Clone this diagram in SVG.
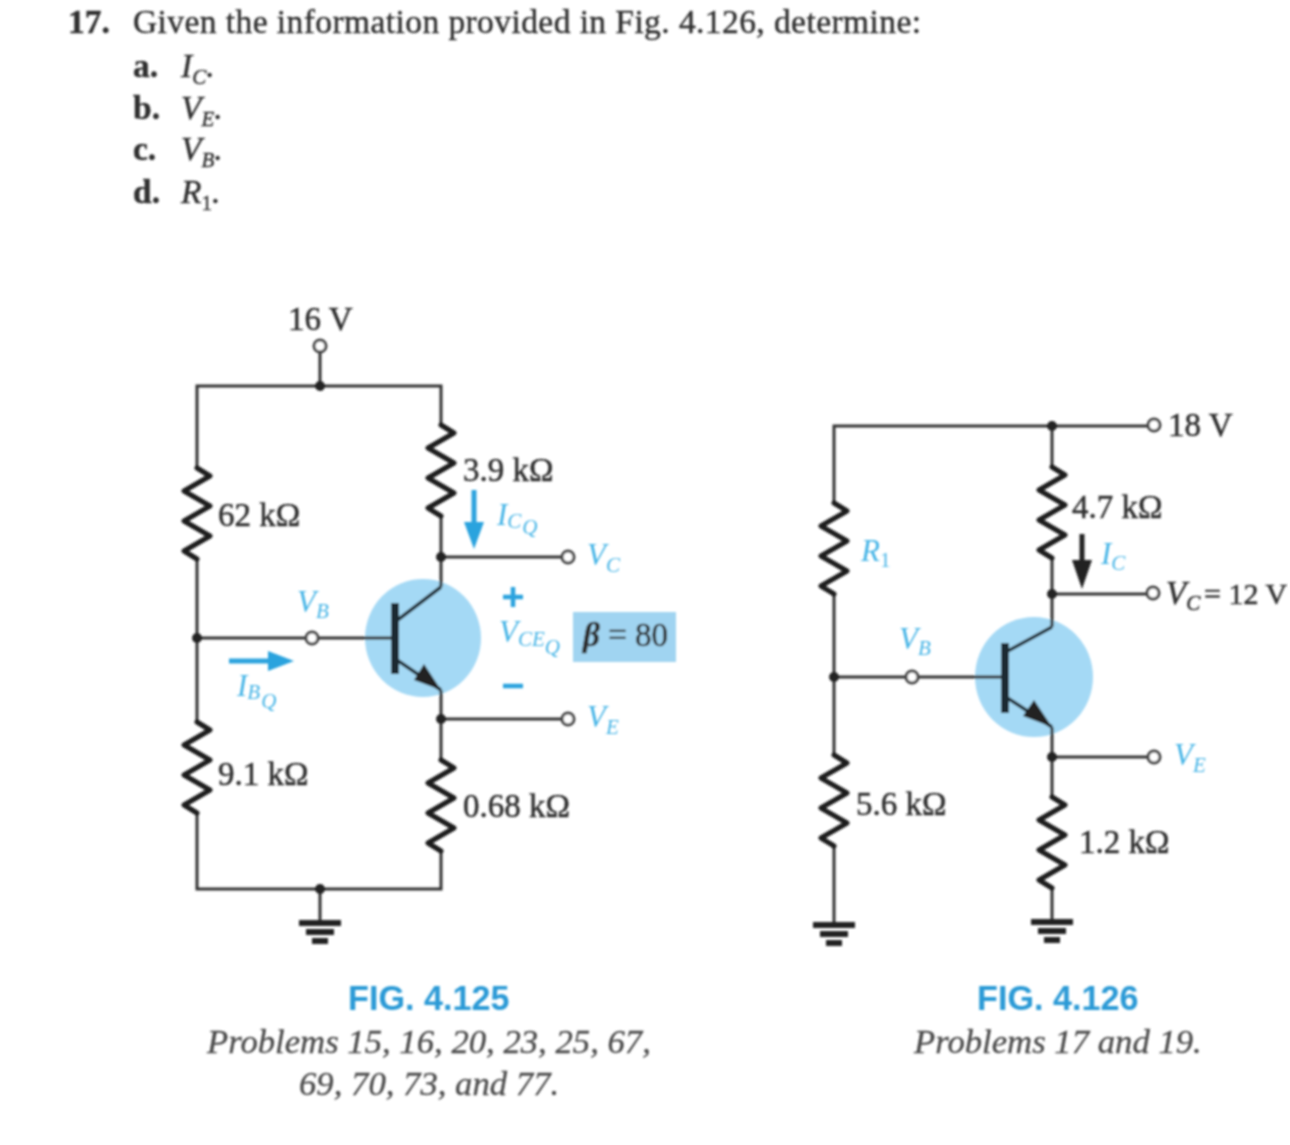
<svg xmlns="http://www.w3.org/2000/svg" width="1290" height="1145" viewBox="0 0 1290 1145">
<style>
text{font-family:"Liberation Serif","Times New Roman",serif;fill:#2e2e2e}
.q{font-size:33.5px;stroke:#2e2e2e;stroke-width:.4}
.b{font-weight:bold}
.i{font-style:italic}
.v{font-size:33px;stroke:#2e2e2e;stroke-width:.5}
.bl{fill:#45b4e6;font-style:italic;font-size:31px}
.s{font-size:21px}
.cap{font-family:"Liberation Sans",Arial,sans-serif;font-weight:bold;font-size:34.2px;fill:#2a9ad6}
.pc{font-size:34.7px;font-style:italic;fill:#4a4a4a;stroke:#4a4a4a;stroke-width:.3}
.w{fill:none;stroke:#333;stroke-width:3}
.r{fill:none;stroke:#1c1c1c;stroke-width:5;stroke-linejoin:round;stroke-linecap:round}
.t{fill:#fff;stroke:#444;stroke-width:3}
.d{fill:#222}
.bjt{fill:#a4d9f5}
.bar{fill:#1e2a33}
.ln{stroke:#24313a;stroke-width:3.5;fill:none}
</style>
<defs>
<path id="res" class="r" d="M0 0L13 8L-13 23L13 38L-13 53L13 68L-13 83L0 91"/>
<g id="gnd"><path d="M-21 0H21" stroke="#222" stroke-width="6"/><path d="M-14 9H14" stroke="#222" stroke-width="6"/><path d="M-8 18H8" stroke="#222" stroke-width="6"/></g>
<filter id="soft" x="0" y="0" width="100%" height="100%"><feGaussianBlur stdDeviation="0.9"/></filter>
</defs>
<rect width="1290" height="1145" fill="#fff"/>
<g filter="url(#soft)">
<g id="question">
<text x="68" y="33" class="q b">17.</text>
<text x="133" y="33" class="q" textLength="788">Given the information provided in Fig. 4.126, determine:</text>
<text x="133" y="77" class="q b">a.</text><text x="181" y="77" class="q i">I<tspan class="s" dy="7">C</tspan><tspan dy="-7">.</tspan></text>
<text x="133" y="119" class="q b">b.</text><text x="181" y="119" class="q i">V<tspan class="s" dy="7">E</tspan><tspan dy="-7">.</tspan></text>
<text x="133" y="160" class="q b">c.</text><text x="181" y="160" class="q i">V<tspan class="s" dy="7">B</tspan><tspan dy="-7">.</tspan></text>
<text x="133" y="203" class="q b">d.</text><text x="181" y="203" class="q i">R<tspan class="s" dy="7" font-style="normal">1</tspan><tspan dy="-7">.</tspan></text>
</g>
<g id="highlights">
<ellipse class="bjt" cx="423" cy="638" rx="58" ry="59"/>
<ellipse class="bjt" cx="1034" cy="677" rx="59" ry="60"/>
<rect x="573" y="612" width="103" height="50" fill="#a0d4f1"/>
</g>
<g id="connectors">
<path class="w" d="M197 468V386H441V425M320 352V386M441 516V587M441 557H562M441 690V760M441 719H562M441 850V889H197V812M197 558V722M197 638H306M318 638H395M320 889V922"/>
<path class="w" d="M834 503V426H1148M1052 426V467M1052 558V627M1052 594H1147M1052 727V797M1052 757H1148M1052 887V922M834 593V755M834 677H906M918 677H1005M834 845V923"/>
</g>
<g id="r-62k"><use href="#res" x="197" y="468"/><text x="218" y="526" class="v">62 kΩ</text></g>
<g id="r-9k1"><use href="#res" x="197" y="722"/><text x="218" y="785" class="v">9.1 kΩ</text></g>
<g id="r-3k9"><use href="#res" x="441" y="425"/><text x="463" y="481" class="v">3.9 kΩ</text></g>
<g id="r-068k"><use href="#res" x="441" y="760"/><text x="463" y="817" class="v">0.68 kΩ</text></g>
<g id="r-r1"><use href="#res" x="834" y="503"/><text x="861" y="561" class="bl">R<tspan class="s" dy="6" font-style="normal">1</tspan></text></g>
<g id="r-5k6"><use href="#res" x="834" y="755"/><text x="856" y="815" class="v">5.6 kΩ</text></g>
<g id="r-4k7"><use href="#res" x="1052" y="467"/><text x="1072" y="518" class="v">4.7 kΩ</text></g>
<g id="r-1k2"><use href="#res" x="1052" y="797"/><text x="1079" y="853" class="v">1.2 kΩ</text></g>
<g id="t1">
<path class="ln" d="M395 622L441 587M397 660L441 690"/><rect class="bar" x="391" y="603" width="8" height="71"/><path class="d" d="M441 690L414 680L424 664Z"/>
</g>
<g id="t2">
<path class="ln" d="M1006 652L1052 627M1006 697L1052 727"/><rect class="bar" x="1001" y="643" width="8" height="70"/><path class="d" d="M1052 727L1023 716L1034 700Z"/>
</g>
<g id="junctions">
<circle class="d" cx="320" cy="386" r="5"/><circle class="d" cx="441" cy="557" r="5"/><circle class="d" cx="197" cy="638" r="5"/><circle class="d" cx="441" cy="719" r="5"/><circle class="d" cx="320" cy="889" r="5"/>
<circle class="d" cx="1052" cy="426" r="5"/><circle class="d" cx="1052" cy="594" r="5"/><circle class="d" cx="834" cy="677" r="5"/><circle class="d" cx="1052" cy="757" r="5"/>
</g>
<g id="terminals">
<circle class="t" cx="320" cy="346" r="6"/><circle class="t" cx="568" cy="557" r="6"/><circle class="t" cx="312" cy="638" r="6"/><circle class="t" cx="568" cy="719" r="6"/>
<circle class="t" cx="1154" cy="425" r="6"/><circle class="t" cx="1153" cy="593" r="6"/><circle class="t" cx="912" cy="677" r="6"/><circle class="t" cx="1154" cy="757" r="6"/>
</g>
<g id="grounds"><use href="#gnd" x="320" y="923"/><use href="#gnd" x="834" y="925"/><use href="#gnd" x="1052" y="922"/></g>
<g id="arrows">
<path d="M229 661H272" stroke="#29a3de" stroke-width="5"/><path d="M268 651L294 661L268 671Z" fill="#29a3de"/>
<path d="M474 490V525" stroke="#29a3de" stroke-width="5"/><path d="M464 522H484L474 549Z" fill="#29a3de"/>
<path d="M1082 534V565" stroke="#222" stroke-width="5"/><path d="M1072 560H1092L1082 589Z" fill="#222"/>
</g>
<g id="labels-4125">
<text x="288" y="330" class="v">16 V</text>
<text x="297" y="612" class="bl">V<tspan class="s" dy="6">B</tspan></text>
<text x="237" y="696" class="bl">I<tspan class="s" dy="3">B</tspan><tspan class="s" dy="9" dx="1">Q</tspan></text>
<text x="497" y="525" class="bl">I<tspan class="s" dy="3">C</tspan><tspan class="s" dy="6" dx="1">Q</tspan></text>
<text x="587" y="565" class="bl">V<tspan class="s" dy="7">C</tspan></text>
<text x="587" y="727" class="bl">V<tspan class="s" dy="7">E</tspan></text>
<text x="499" y="642" class="bl">V<tspan class="s" dy="4">CE</tspan><tspan class="s" dy="8">Q</tspan></text>
<path d="M503 597H523M513 587V607M503 686H523" stroke="#29a3de" stroke-width="4.5"/>
<text x="583" y="646" class="v"><tspan class="i b">β</tspan> = 80</text>
<text x="348" y="1010" class="cap">FIG. 4.125</text>
<text x="207" y="1053" class="pc">Problems 15, 16, 20, 23, 25, 67,</text>
<text x="299" y="1095" class="pc">69, 70, 73, and 77.</text>
</g>
<g id="labels-4126">
<text x="1168" y="436" class="v">18 V</text>
<text x="1166" y="604" class="v"><tspan class="i">V</tspan><tspan class="s i" dy="6">C</tspan></text>
<text x="1204" y="604" class="v" style="font-size:30px">= 12 V</text>
<text x="899" y="649" class="bl">V<tspan class="s" dy="6">B</tspan></text>
<text x="1101" y="564" class="bl">I<tspan class="s" dy="6">C</tspan></text>
<text x="1174" y="765" class="bl">V<tspan class="s" dy="7">E</tspan></text>
<text x="977" y="1010" class="cap">FIG. 4.126</text>
<text x="914" y="1053" class="pc">Problems 17 and 19.</text>
</g>
</g>
</svg>
